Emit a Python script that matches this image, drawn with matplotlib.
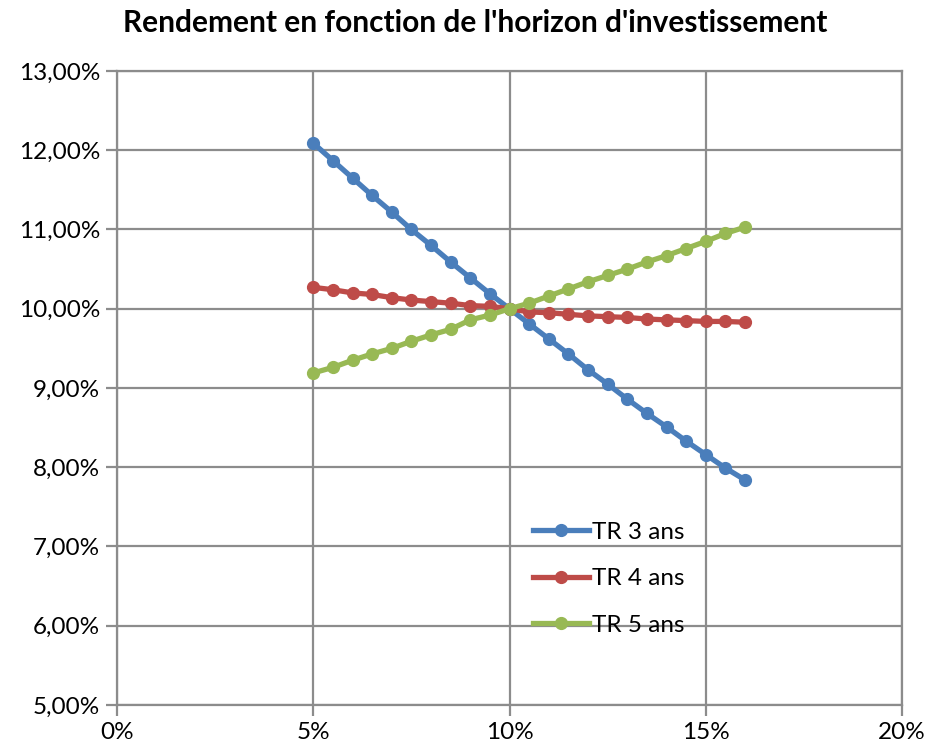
import matplotlib
matplotlib.use("Agg")
from matplotlib import pyplot as plt
from matplotlib.ticker import FuncFormatter, MultipleLocator

taux = [5.0, 5.5, 6.0, 6.5, 7.0, 7.5, 8.0, 8.5, 9.0, 9.5, 10.0, 10.5,
        11.0, 11.5, 12.0, 12.5, 13.0, 13.5, 14.0, 14.5, 15.0, 15.5, 16.0]
tr3 = [12.09, 11.87, 11.65, 11.43, 11.22, 11.00, 10.80, 10.59, 10.39, 10.19, 10.00, 9.81,
       9.62, 9.43, 9.23, 9.05, 8.86, 8.68, 8.51, 8.33, 8.16, 7.99, 7.84]
tr4 = [10.27, 10.24, 10.20, 10.18, 10.14, 10.11, 10.09, 10.07, 10.04, 10.03, 10.00, 9.96,
       9.95, 9.93, 9.91, 9.90, 9.89, 9.87, 9.86, 9.85, 9.84, 9.84, 9.83]
tr5 = [9.19, 9.26, 9.35, 9.43, 9.50, 9.59, 9.67, 9.74, 9.86, 9.92, 10.00, 10.07,
       10.16, 10.25, 10.34, 10.42, 10.50, 10.59, 10.67, 10.76, 10.85, 10.95, 11.03]
series = [("TR 3 ans", tr3, "#4A7EBB"), ("TR 4 ans", tr4, "#BE4B48"), ("TR 5 ans", tr5, "#98B954")]

plt.rcParams['font.family'] = ['Lato', 'DejaVu Sans']

fig = plt.figure(figsize=(9.27, 7.49), dpi=100)
ax = fig.add_axes([117 / 927, 1 - 705 / 749, (902 - 117) / 927, (705 - 71) / 749])

for label, vals, color in series:
    ax.plot(taux, vals, '-o', color=color, lw=3.8, ms=8.5, label=label, zorder=3)

ax.set_xlim(0, 20)
ax.set_ylim(5, 13)
ax.xaxis.set_major_locator(MultipleLocator(5))
ax.yaxis.set_major_locator(MultipleLocator(1))
ax.xaxis.set_major_formatter(FuncFormatter(lambda v, p: f"{v:.0f}%"))
ax.yaxis.set_major_formatter(FuncFormatter(lambda v, p: f"{v:.2f}%".replace('.', ',')))
ax.grid(True, color='#8c8c8c', lw=1.6)
for s in ax.spines.values():
    s.set_color('#8c8c8c')
    s.set_linewidth(1.6)
ax.tick_params(colors='#8c8c8c', labelcolor='black', labelsize=17.5, length=8, width=1.6)
ax.tick_params(axis='x', pad=4)
ax.tick_params(axis='y', pad=4)

fig.text(475 / 927, 1 - 23 / 749, "Rendement en fonction de l'horizon d'investissement",
         fontsize=21.5, fontweight='bold', ha='center', va='center')

ax.legend(loc='center left', bbox_to_anchor=(0.518, 0.199), frameon=False, fontsize=17.5,
          handlelength=2.3, handletextpad=0.1, labelspacing=1.05, borderaxespad=0)

fig.savefig("out.png", dpi=100)
